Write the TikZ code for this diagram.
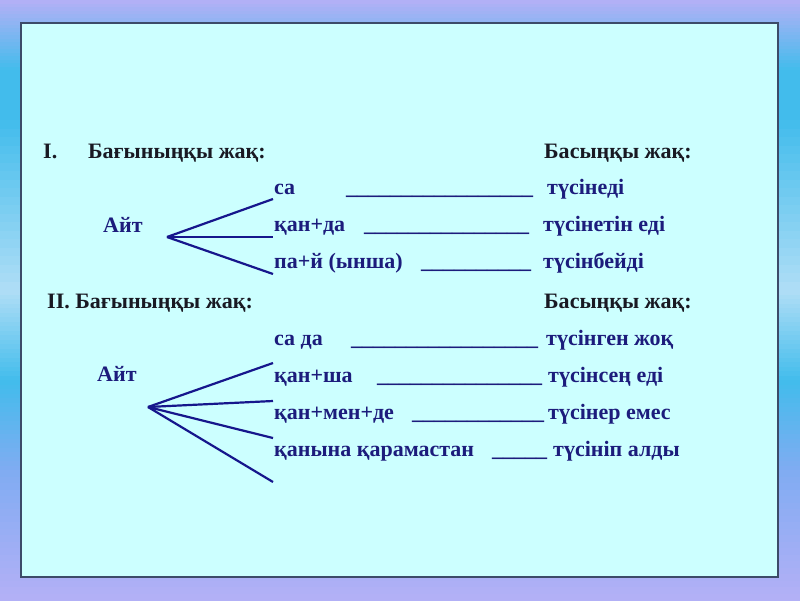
\documentclass[tikz,border=0pt]{standalone}
\usepackage{fontspec}
\setmainfont{Liberation Serif}
\usepackage{xcolor}
\usepackage{tikz}
\usetikzlibrary{positioning,calc}

\definecolor{navy}{RGB}{28,28,124}
\definecolor{rayblue}{RGB}{22,22,140}
\definecolor{ink}{RGB}{25,25,35}
\definecolor{panel}{RGB}{204,255,255}
\definecolor{frame}{RGB}{60,75,105}
\definecolor{lavender}{RGB}{180,176,246}
\definecolor{sky}{RGB}{66,188,236}
\definecolor{pale}{RGB}{176,222,246}
\definecolor{dusk}{RGB}{128,172,242}

% a row of underscores for the blank
\newcommand{\gaps}[1]{\foreach\k in {1,...,#1}{\_}}

\begin{document}
\begin{tikzpicture}[
    x=1pt, y=-1pt,
    txt/.style={anchor=base west,inner sep=0pt,text=navy,
                font=\fontsize{22}{26}\selectfont\bfseries},
    head/.style={txt,text=ink},
    ray/.style={rayblue,line width=2.2pt},
  ]

  % background: vertical blend in strips
  \useasboundingbox (0,0) rectangle (800,600);
  \foreach \ya/\yb/\ca/\cb in {0/70/lavender/sky, 70/120/sky/sky, 120/290/sky/pale,
                               290/380/pale/sky, 380/470/sky/dusk, 470/600/dusk/lavender}
    \foreach \i in {0,...,19} {
      \pgfmathtruncatemacro\p{5*\i+2}
      \fill[\cb!\p!\ca] (0,{\ya+(\yb-\ya)*\i/20}) rectangle (800,{\ya+(\yb-\ya)*(\i+1)/20+1.2});
    }
  \draw[frame,fill=panel,line width=1.2pt] (21,23) rectangle (778,577);

  % part I
  \node[head] (n1)  at (43,158)  {I.};
  \node[head] (sub1) at (88,158) {Бағыныңқы жақ:};
  \node[head] (main1) at (544,158) {Басыңқы жақ:};
  \node[txt] (ait1) at (103,232) {Айт};

  \node[txt] (a1) at (274,194) {са};
  \node[txt] (g1) at (346,194) {\gaps{17}};
  \node[txt] (b1) at (547,194) {түсінеді};
  \node[txt] (a2) at (274,231) {қан+да};
  \node[txt] (g2) at (364,231) {\gaps{15}};
  \node[txt] (b2) at (543,231) {түсінетін еді};
  \node[txt] (a3) at (274,268) {па+й (ынша)};
  \node[txt] (g3) at (421,268) {\gaps{10}};
  \node[txt] (b3) at (543,268) {түсінбейді};

  \coordinate (tip1) at (167,237);
  \coordinate (e11) at (273,199);
  \coordinate (e12) at (273,237);
  \coordinate (e13) at (273,274);
  \foreach \e in {e11,e12,e13}
    \draw[ray] (tip1) -- (\e);

  % part II
  \node[head] (sub2) at (47,308) {II. Бағыныңқы жақ:};
  \node[head] (main2) at (544,308) {Басыңқы жақ:};
  \node[txt] (ait2) at (97,381) {Айт};

  \node[txt] (c1) at (274,345) {са да};
  \node[txt] (h1) at (351,345) {\gaps{17}};
  \node[txt] (d1) at (546,345) {түсінген жоқ};
  \node[txt] (c2) at (274,382) {қан+ша};
  \node[txt] (h2) at (377,382) {\gaps{15}};
  \node[txt] (d2) at (548,382) {түсінсең еді};
  \node[txt] (c3) at (274,419) {қан+мен+де};
  \node[txt] (h3) at (412,419) {\gaps{12}};
  \node[txt] (d3) at (548,419) {түсінер емес};
  \node[txt] (c4) at (274,456) {қанына қарамастан};
  \node[txt] (h4) at (492,456) {\gaps{5}};
  \node[txt] (d4) at (553,456) {түсініп алды};

  \coordinate (tip2) at (148,407);
  \coordinate (e21) at (273,363);
  \coordinate (e22) at (273,401);
  \coordinate (e23) at (273,438);
  \coordinate (e24) at (273,482);
  \foreach \e in {e21,e22,e23,e24}
    \draw[ray] (tip2) -- (\e);

\end{tikzpicture}
\end{document}
